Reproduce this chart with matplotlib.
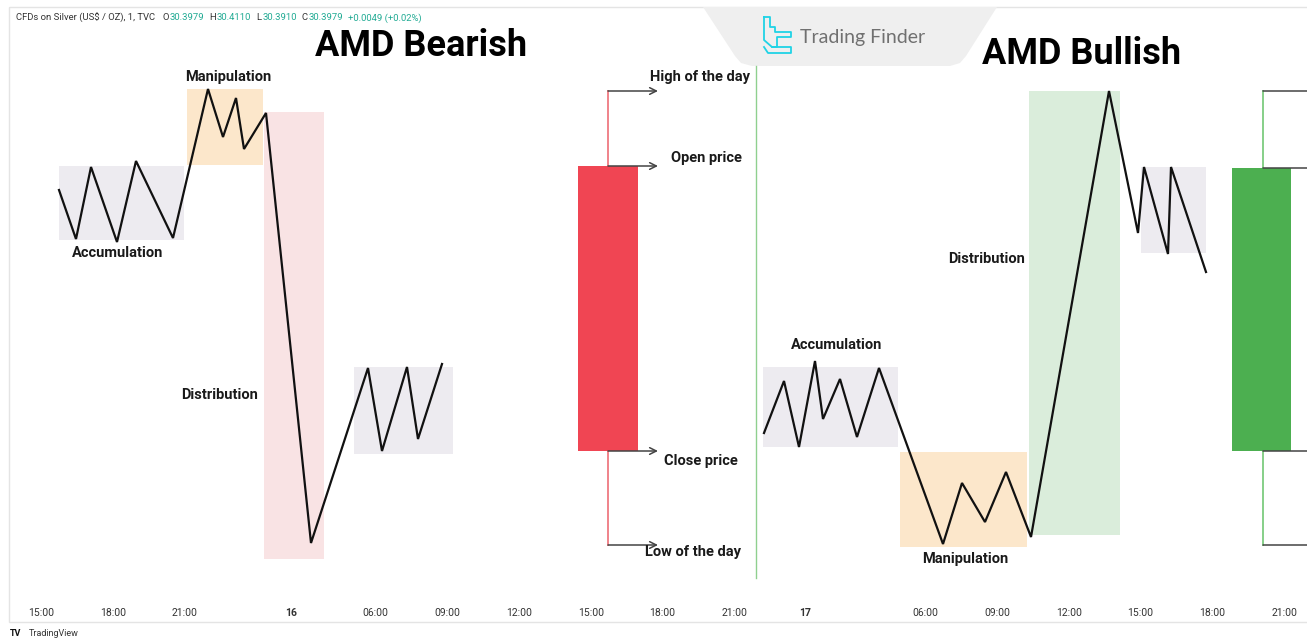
import matplotlib
matplotlib.use("Agg")
import matplotlib.pyplot as plt
from matplotlib.patches import Polygon, Rectangle

# ---------------- data (chart coordinates: x = time position, y = price level, inverted) -------------
bear_x = [59, 76, 91, 117, 136, 173, 208, 223, 236, 244, 266, 311, 368, 382, 407, 418, 442]
bear_y = [190, 239, 167, 242, 161, 238, 89, 137, 98, 149, 113, 543, 368, 451, 367, 439, 364]

bull_x = [764, 784, 799, 815, 823, 840, 857, 879, 943, 962, 985, 1006, 1031, 1109, 1138, 1144, 1168, 1171, 1206]
bull_y = [433, 381, 447, 361, 419, 379, 437, 368, 544, 483, 522, 472, 537, 91, 233, 167, 254, 167, 272]

# zones: x0, x1, y_top, y_bottom, kind
zone_x0 = [59, 187, 264, 354, 763, 900, 1029, 1141]
zone_x1 = [184, 263, 324, 453, 898, 1027, 1120, 1206]
zone_top = [166, 89, 112, 367, 367, 452, 91, 167]
zone_bot = [240, 165, 559, 454, 447, 547, 535, 253]
zone_kind = ["acc", "man", "dist_bear", "acc", "acc", "man", "dist_bull", "acc"]

# daily candles (open, high, low, close) and horizontal span
candle_open = [166, 451]
candle_high = [91, 91]
candle_low = [545, 545]
candle_close = [451, 168]
candle_x0 = [578, 1232]
candle_x1 = [638, 1291]
candle_wick = [608, 1263]
arrow_len = [50, 80]

# labels
phase_labels = ["Manipulation", "Accumulation", "Distribution", "Accumulation", "Manipulation", "Distribution"]
phase_lx = [228, 118, 220, 837, 965, 987]
phase_ly = [77, 253, 395, 345, 559, 259]

ohlc_labels = ["High of the day", "Open price", "Close price", "Low of the day"]
ohlc_lx = [700, 706, 701, 693]
ohlc_ly = [77, 158, 461, 552]

titles = ["AMD Bearish", "AMD Bullish"]
title_x = [421, 1082]
title_y = [46, 54]

tick_labels = ["15:00", "18:00", "21:00", "16", "06:00", "09:00", "12:00", "15:00", "18:00",
               "21:00", "17", "06:00", "09:00", "12:00", "15:00", "18:00", "21:00"]
tick_pos = [41, 113, 184, 291, 375, 447, 519, 591, 662, 734, 805, 925, 997, 1069, 1140, 1212, 1284]
tick_bold = ["16", "17"]

header_title = "CFDs on Silver (US$ / OZ), 1, TVC"
ohlc_keys = ["O", "H", "L", "C"]
ohlc_vals = ["30.3979", "30.4110", "30.3910", "30.3979"]
change_text = "+0.0049 (+0.02%)"

# ---------------- style ----------------
zone_colors = {"acc": "#EDEBF0", "man": "#FCE7CB", "dist_bear": "#F9E3E4", "dist_bull": "#DAEDDB"}
W, H = 1307, 639
FONT = "Roboto"

fig = plt.figure(figsize=(W / 100, H / 100), dpi=100)
ax = fig.add_axes([0, 0, 1, 1])
ax.set_xlim(0, W)
ax.set_ylim(H, 0)
ax.axis("off")

# chart frame
ax.add_patch(Rectangle((9, 7), W, 615, fill=False, ec="#E4E4E4", lw=1.0, zorder=0))

# zones
for x0, x1, t, b, k in zip(zone_x0, zone_x1, zone_top, zone_bot, zone_kind):
    ax.bar((x0 + x1) / 2, b - t, bottom=t, width=x1 - x0, color=zone_colors[k], lw=0, zorder=1)

# price paths
ax.plot(bear_x, bear_y, color="#111111", lw=1.6, zorder=3, solid_joinstyle="miter")
ax.plot(bull_x, bull_y, color="#111111", lw=1.6, zorder=3, solid_joinstyle="miter")

# candles
for i in range(2):
    up = candle_close[i] < candle_open[i]
    body_c = "#4CAF50" if up else "#F04553"
    wick_c = "#86CF88" if up else "#F0838A"
    top = min(candle_open[i], candle_close[i])
    bot = max(candle_open[i], candle_close[i])
    wx = candle_wick[i]
    ax.plot([wx, wx], [candle_high[i], top], color=wick_c, lw=1.4, zorder=2)
    ax.plot([wx, wx], [bot, candle_low[i]], color=wick_c, lw=1.4, zorder=2)
    ax.bar((candle_x0[i] + candle_x1[i]) / 2, bot - top, bottom=top,
           width=candle_x1[i] - candle_x0[i], color=body_c, lw=0, zorder=2)
    for yv in [candle_high[i], candle_open[i], candle_close[i], candle_low[i]]:
        ax.annotate("", xy=(wx + arrow_len[i], yv), xytext=(wx, yv),
                    arrowprops=dict(arrowstyle="->", color="#444444", lw=1.1,
                                    shrinkA=0, shrinkB=0, mutation_scale=12),
                    zorder=4, annotation_clip=False)

# separator line
ax.plot([756, 756], [66, 578], color="#8FD08F", lw=1.0, zorder=2)

# texts
for s, x, y in zip(phase_labels, phase_lx, phase_ly):
    ax.text(x, y, s, ha="center", va="center", fontsize=10.5, fontweight="bold",
            family=FONT, color="#1a1a1a", zorder=5)
for s, x, y in zip(ohlc_labels, ohlc_lx, ohlc_ly):
    ax.text(x, y, s, ha="center", va="center", fontsize=10.5, fontweight="bold",
            family=FONT, color="#1a1a1a", zorder=5)
for s, x, y in zip(titles, title_x, title_y):
    ax.text(x, y, s, ha="center", va="center", fontsize=26, fontweight="bold",
            family=FONT, color="#000000", zorder=5)

for s, x in zip(tick_labels, tick_pos):
    ax.text(x, 613, s, ha="center", va="center", fontsize=7.5,
            fontweight="bold" if s in tick_bold else "normal", family=FONT, color="#333333")

# header, laid out run by run
renderer = fig.canvas.get_renderer()
hdr_y = 18
DARK, GREEN = "#333333", "#22AB94"
runs = [(header_title, DARK, 7)]
for k, v in zip(ohlc_keys, ohlc_vals):
    runs.append((k, DARK, 1))
    runs.append((v, GREEN, 5))
runs.append((change_text, GREEN, 0))
cursor = 16.0
for s, c, gap in runs:
    t = ax.text(cursor, hdr_y, s, ha="left", va="center", fontsize=6.8, family=FONT, color=c)
    bb = t.get_window_extent(renderer=renderer)
    cursor += bb.width + gap

# Trading Finder badge
badge = Polygon([(703, 7), (997, 7), (966, 56), (960, 63), (950, 66), (752, 66), (741, 63), (735, 56)],
                closed=True, fc="#EFEFEF", ec="none", zorder=1)
ax.add_patch(badge)
icon_c = "#1FD3E6"
ax.plot([764, 770, 770, 775, 775, 791, 791, 777, 777, 772, 764, 764],
        [17, 17, 27, 27, 32, 32, 37, 37, 47, 47, 40, 17], color=icon_c, lw=1.3, zorder=2)
ax.plot([772, 791, 791, 768, 764], [47, 47, 53, 53, 47], color=icon_c, lw=1.3, zorder=2)
ax.text(800, 38, "Trading Finder", ha="left", va="center", fontsize=14, family="Lato",
        fontweight="normal", color="#707070", zorder=3)

# TradingView footer
ax.text(10, 634, "TV", ha="left", va="center", fontsize=6.5, fontweight="bold", family=FONT, color="#111111")
ax.text(29, 634, "TradingView", ha="left", va="center", fontsize=6.5, family=FONT, color="#333333")

fig.savefig("out.png", dpi=100)
